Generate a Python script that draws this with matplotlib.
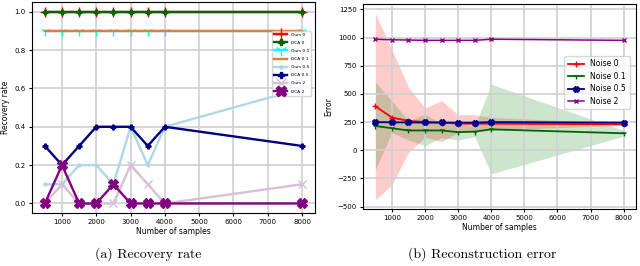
import numpy as np
import matplotlib
matplotlib.use('Agg')
from matplotlib import pyplot as plt

samples = [500, 1000, 1500, 2000, 2500, 3000, 3500, 4000, 8000]

# (a) recovery rate
ours_0 = [1.0, 1.0, 1.0, 1.0, 1.0, 1.0, 1.0, 1.0, 1.0]
dca_0 = [1.0, 1.0, 1.0, 1.0, 1.0, 1.0, 1.0, 1.0, 1.0]
ours_01 = [0.9, 0.9, 0.9, 0.9, 0.9, 0.9, 0.9, 0.9, 0.9]
dca_01 = [0.9, 0.9, 0.9, 0.9, 0.9, 0.9, 0.9, 0.9, 0.9]
ours_05 = [0.1, 0.1, 0.2, 0.2, 0.1, 0.4, 0.2, 0.4, 0.6]
dca_05 = [0.3, 0.2, 0.3, 0.4, 0.4, 0.4, 0.3, 0.4, 0.3]
ours_2 = [0.0, 0.1, 0.0, 0.0, 0.0, 0.2, 0.1, 0.0, 0.1]
dca_2 = [0.0, 0.2, 0.0, 0.0, 0.1, 0.0, 0.0, 0.0, 0.0]

# (b) reconstruction error: mean, lower, upper
err_0 = [390, 290, 260, 250, 245, 235, 235, 235, 230]
err_0_lo = [-440, -310, -20, 115, 75, 155, 165, 180, 220]
err_0_hi = [1215, 895, 560, 375, 440, 315, 315, 290, 240]
err_01 = [215, 195, 175, 175, 175, 160, 165, 185, 150]
err_01_lo = [-175, 155, 90, 40, 110, 90, 120, -210, 125]
err_01_hi = [605, 440, 260, 320, 235, 235, 210, 585, 175]
err_05 = [250, 248, 247, 246, 246, 245, 245, 250, 245]
err_05_lo = [240, 240, 240, 238, 238, 238, 238, 240, 238]
err_05_hi = [260, 256, 254, 254, 254, 252, 252, 260, 252]
err_2 = [985, 980, 978, 975, 975, 975, 975, 985, 975]

xticks = [1000, 2000, 3000, 4000, 5000, 6000, 7000, 8000]

fig = plt.figure(figsize=(6.4, 2.66), dpi=100)
ax1 = fig.add_axes([0.050, 0.199, 0.442, 0.793])
ax2 = fig.add_axes([0.567, 0.214, 0.427, 0.771])

ax1.plot(samples, ours_0, color='red', marker='+', markersize=7, lw=1.7, label='Ours 0')
ax1.plot(samples, dca_0, color='darkgreen', marker='P', markersize=3.5, lw=1.7, label='DCA 0')
ax1.plot(samples, ours_01, color='cyan', marker='1', markersize=7, lw=1.7, label='Ours 0.1')
ax1.plot(samples, dca_01, color='peru', lw=1.7, label='DCA 0.1')
ax1.plot(samples, ours_05, color='lightblue', marker='.', markersize=4, lw=1.7, label='Ours 0.5')
ax1.plot(samples, dca_05, color='navy', marker='P', markersize=3.5, lw=1.7, label='DCA 0.5')
ax1.plot(samples, ours_2, color='thistle', marker='x', markersize=6, lw=1.7, label='Ours 2')
ax1.plot(samples, dca_2, color='purple', marker='X', markersize=6.5, lw=1.7, label='DCA 2')
ax1.set_xlabel('Number of samples', fontsize=5.5, labelpad=1.5)
ax1.set_ylabel('Recovery rate', fontsize=5.5, labelpad=3)
ax1.tick_params(labelsize=5, length=2.5, pad=2)
ax1.set_xticks(xticks)
ax1.grid(True, color='#d0d0d0', lw=1.2)
ax1.legend(loc='upper right', bbox_to_anchor=(0.995, 0.875), fontsize=3.2,
           handlelength=3.0, labelspacing=0.9, borderpad=0.45, markerscale=1.2,
           framealpha=0.8)

ax2.fill_between(samples, err_0_lo, err_0_hi, color='red', alpha=0.2, lw=0)
ax2.fill_between(samples, err_01_lo, err_01_hi, color='green', alpha=0.2, lw=0)
ax2.fill_between(samples, err_05_lo, err_05_hi, color='navy', alpha=0.2, lw=0)
ax2.plot(samples, err_0, color='red', marker='+', markersize=4, lw=1.3, label='Noise 0')
ax2.plot(samples, err_01, color='darkgreen', marker='1', markersize=4, lw=1.3, label='Noise 0.1')
ax2.plot(samples, err_05, color='darkblue', marker='X', markersize=4, lw=1.3, label='Noise 0.5')
ax2.plot(samples, err_2, color='darkmagenta', marker='x', markersize=3.5, lw=1.1, label='Noise 2')
ax2.set_xlabel('Number of samples', fontsize=5.5, labelpad=1.5)
ax2.set_ylabel('Error', fontsize=5.5, labelpad=3)
ax2.tick_params(labelsize=5, length=2.5, pad=2)
ax2.set_xticks(xticks)
ax2.set_yticks([-500, -250, 0, 250, 500, 750, 1000, 1250])
ax2.grid(True, color='#d0d0d0', lw=1.2)
ax2.legend(loc='upper right', bbox_to_anchor=(0.99, 0.765), fontsize=5.5,
           handlelength=2.2, labelspacing=0.45, borderpad=0.45)

fig.text(0.231, 0.03, '(a) Recovery rate', ha='center', fontsize=10, family='cmr10')
fig.text(0.754, 0.03, '(b) Reconstruction error', ha='center', fontsize=10, family='cmr10')

fig.savefig('out.png', dpi=100)
